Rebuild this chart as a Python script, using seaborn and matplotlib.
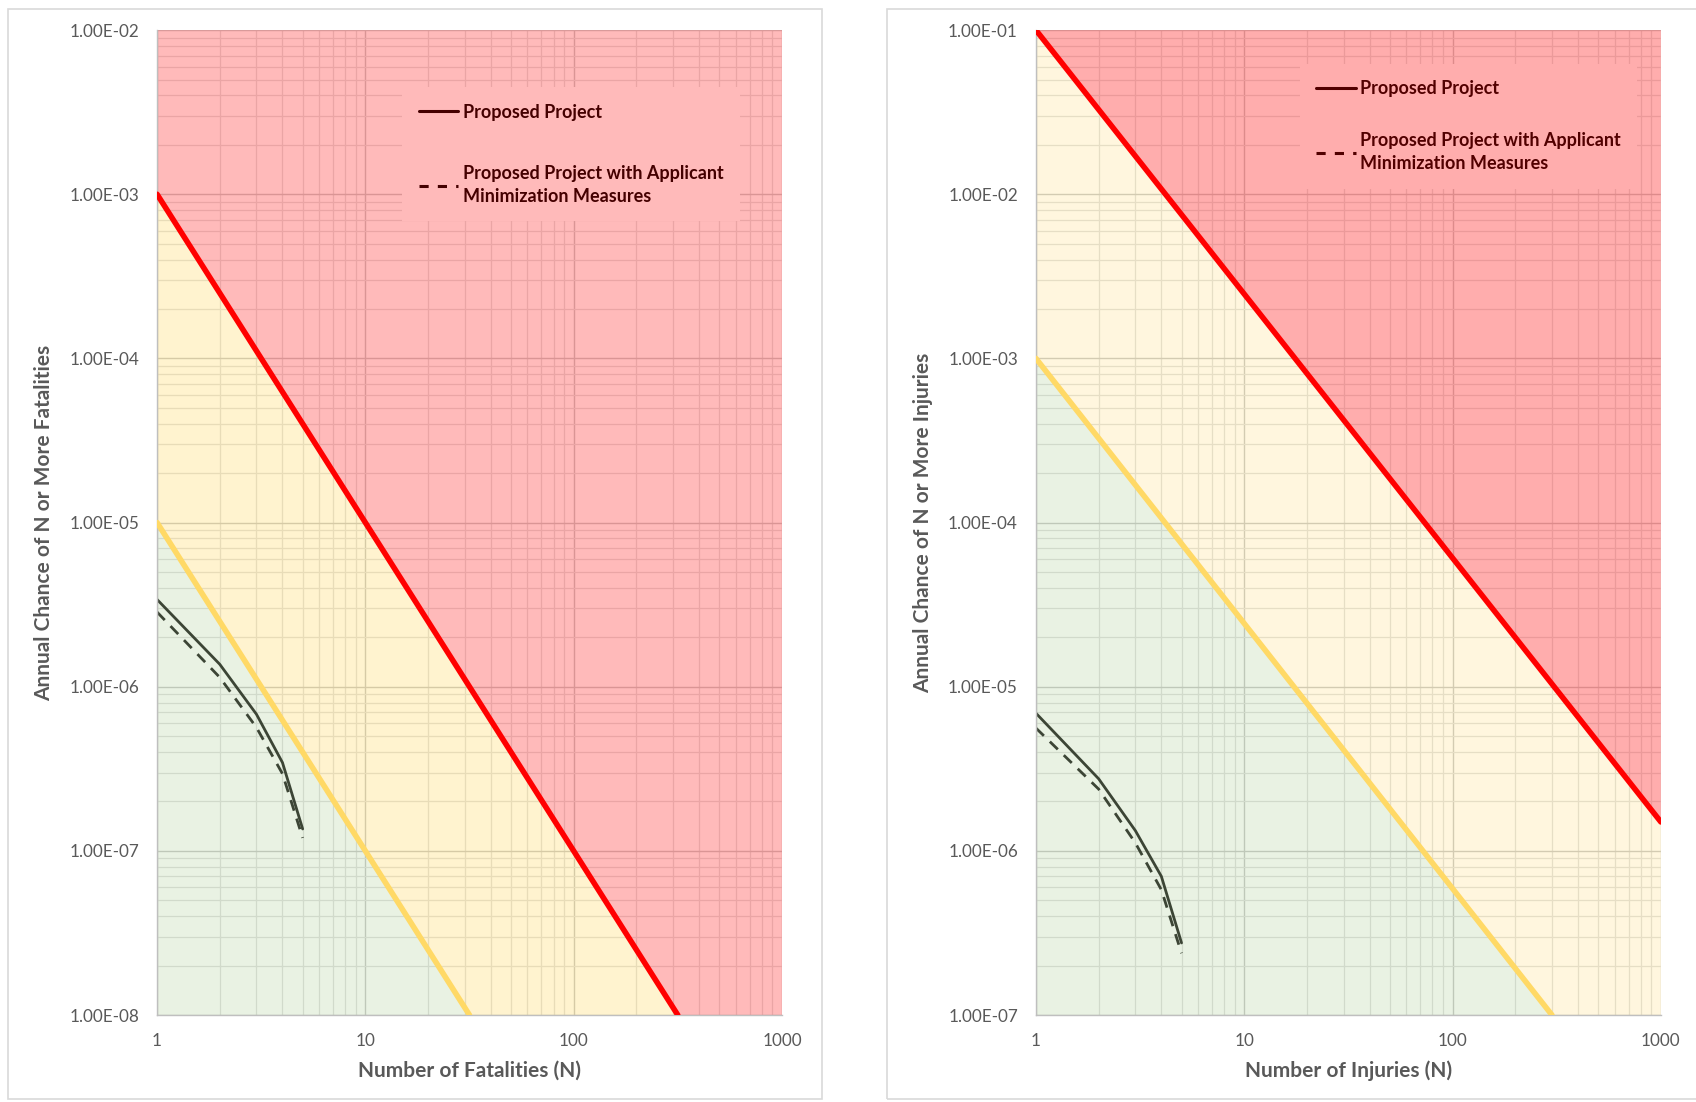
import numpy as np
import pandas as pd
import seaborn as sns
import matplotlib.pyplot as plt
from matplotlib.lines import Line2D
from matplotlib.patches import Rectangle, Polygon
from matplotlib.ticker import FuncFormatter, LogLocator, FixedLocator, NullFormatter

sns.set_theme(style="white")
plt.rcParams["font.family"] = ["Lato", "DejaVu Sans"]

# ---- data -------------------------------------------------------------
n_events = [1, 2, 3, 4, 5]

fatal_project = [3.4e-6, 1.37e-6, 6.8e-7, 3.45e-7, 1.36e-7]
fatal_mitigated = [2.85e-6, 1.14e-6, 5.65e-7, 2.95e-7, 1.2e-7]
injury_project = [6.9e-6, 2.75e-6, 1.33e-6, 7.0e-7, 2.75e-7]
injury_mitigated = [5.6e-6, 2.38e-6, 1.12e-6, 5.8e-7, 2.38e-7]

# risk criteria lines (end points)
fatal_upper_n = [1, 316]
fatal_upper_p = [1e-3, 1e-8]
fatal_lower_n = [1, 31.6]
fatal_lower_p = [1e-5, 1e-8]
injury_upper_n = [1, 1000]
injury_upper_p = [1e-1, 1.5e-6]
injury_lower_n = [1, 300]
injury_lower_p = [1e-3, 1e-7]

x_ticks = [1, 10, 100, 1000]
fatal_y_ticks = [1e-8, 1e-7, 1e-6, 1e-5, 1e-4, 1e-3, 1e-2]
injury_y_ticks = [1e-7, 1e-6, 1e-5, 1e-4, 1e-3, 1e-2, 1e-1]

label_project = "Proposed Project"
label_mitigated = "Proposed Project with Applicant\nMinimization Measures"

TEXT = "#595959"
RED = "#FF0000"
GOLD = "#FFC000"
GREEN = "#70AD47"

fig = plt.figure(figsize=(16.96, 11.02), dpi=100)
fig.patch.set_facecolor("white")

# outer chart frames
for x0, w in [(0.0045, 0.4802), (0.523, 0.48)]:
    fig.patches.append(Rectangle((x0, 0.0027), w, 0.9893, transform=fig.transFigure,
                                 fill=False, edgecolor="#D9D9D9", linewidth=1.2, zorder=0))

ax_f = fig.add_axes([0.0926, 0.0789, 0.3685, 0.8938])
ax_i = fig.add_axes([0.6108, 0.0789, 0.3685, 0.8938])


def sci_fmt(v, pos):
    m, e = f"{v:.2E}".split("E")
    sign = "-" if int(e) < 0 else "+"
    return f"{m}E{sign}{abs(int(e)):02d}"


def draw_panel(ax, y_ticks, up_n, up_p, lo_n, lo_p, proj, mitig, xlabel, ylabel,
               a_red, a_gold, a_green, leg_anchor, leg_spacing):
    ax.set_xscale("log")
    ax.set_yscale("log")
    xmin, xmax = x_ticks[0], x_ticks[-1]
    ymin, ymax = y_ticks[0], y_ticks[-1]
    ax.set_xlim(xmin, xmax)
    ax.set_ylim(ymin, ymax)

    # gridlines
    ax.set_axisbelow(True)
    ax.yaxis.set_major_locator(FixedLocator(y_ticks))
    ax.yaxis.set_minor_locator(LogLocator(base=10, subs=np.arange(2, 10), numticks=20))
    ax.xaxis.set_major_locator(FixedLocator(x_ticks))
    ax.xaxis.set_minor_locator(LogLocator(base=10, subs=np.arange(2, 10), numticks=20))
    ax.xaxis.set_minor_formatter(NullFormatter())
    ax.yaxis.set_minor_formatter(NullFormatter())
    ax.grid(which="major", color="#CDCDCD", linewidth=1.0)
    ax.grid(which="minor", color="#E3E3E3", linewidth=0.9)

    # project curves
    df = pd.DataFrame({"N": n_events + n_events,
                       "P": proj + mitig,
                       "case": ["p"] * len(n_events) + ["m"] * len(n_events)})
    sns.lineplot(data=df[df.case == "p"], x="N", y="P", ax=ax, color="#333333",
                 linewidth=2.0, zorder=1.2, legend=False)
    sns.lineplot(data=df[df.case == "m"], x="N", y="P", ax=ax, color="#333333",
                 linewidth=2.0, dashes=False, zorder=1.2, legend=False)
    ax.lines[-1].set_dashes((4, 3))

    # legend (sits under the translucent zones)
    handles = [Line2D([], [], color="black", lw=2.2),
               Line2D([], [], color="black", lw=2.2, dashes=(3, 3))]
    leg = ax.legend(handles, [label_project, label_mitigated], loc="upper left",
                    bbox_to_anchor=leg_anchor, frameon=True, fancybox=False,
                    facecolor="white", edgecolor="none", framealpha=1.0,
                    handlelength=2.2, handletextpad=0.25, labelspacing=leg_spacing,
                    borderpad=0.9, prop={"weight": "bold", "size": 13})
    for t in leg.get_texts():
        t.set_color("black")
        t.set_linespacing(1.45)
    leg.set_zorder(1.5)

    # risk zones
    red_poly = [(up_n[0], up_p[0])]
    if up_p[-1] <= ymin:
        red_poly += [(up_n[-1], ymin), (xmax, ymin)]
    else:
        red_poly += [(xmax, up_p[-1])]
    red_poly += [(xmax, ymax), (xmin, ymax)]
    gold_poly = [(lo_n[0], lo_p[0]), (lo_n[-1], lo_p[-1])]
    if up_p[-1] <= ymin:
        gold_poly += [(up_n[-1], ymin)]
    else:
        gold_poly += [(xmax, ymin), (xmax, up_p[-1])]
    gold_poly += [(up_n[0], up_p[0])]
    green_poly = [(xmin, ymin), (lo_n[-1], lo_p[-1]), (lo_n[0], lo_p[0])]
    ax.add_patch(Polygon(red_poly, closed=True, facecolor=RED, alpha=a_red, lw=0, zorder=2))
    ax.add_patch(Polygon(gold_poly, closed=True, facecolor=GOLD, alpha=a_gold, lw=0, zorder=2))
    ax.add_patch(Polygon(green_poly, closed=True, facecolor=GREEN, alpha=a_green, lw=0, zorder=2))

    # criteria lines
    sns.lineplot(x=lo_n, y=lo_p, ax=ax, color="#FFD966", linewidth=4.0, zorder=3)
    sns.lineplot(x=up_n, y=up_p, ax=ax, color=RED, linewidth=4.0, zorder=3.1)

    # axes styling
    for s in ["top", "right"]:
        ax.spines[s].set_visible(False)
    for s in ["left", "bottom"]:
        ax.spines[s].set_color("#BFBFBF")
        ax.spines[s].set_linewidth(1.0)
        ax.spines[s].set_zorder(2.5)
    ax.yaxis.set_major_formatter(FuncFormatter(sci_fmt))
    ax.xaxis.set_major_formatter(FuncFormatter(lambda v, p: f"{int(round(v))}"))
    ax.tick_params(which="both", length=0)
    ax.tick_params(axis="y", pad=13, labelsize=12.3, labelcolor=TEXT)
    ax.tick_params(axis="x", pad=13, labelsize=12.3, labelcolor=TEXT)
    ax.set_xlabel(xlabel, fontsize=15, fontweight="bold", color=TEXT)
    ax.set_ylabel(ylabel, fontsize=15, fontweight="bold", color=TEXT)
    ax.xaxis.set_label_coords(0.5, -0.046)
    ax.yaxis.set_label_coords(-0.165, 0.5)
    ax.set_facecolor("white")


draw_panel(ax_f, fatal_y_ticks, fatal_upper_n, fatal_upper_p, fatal_lower_n, fatal_lower_p,
           fatal_project, fatal_mitigated, "Number of Fatalities (N)",
           "Annual Chance of N or More Fatalities",
           a_red=0.27, a_gold=0.19, a_green=0.15, leg_anchor=(0.378, 0.951), leg_spacing=2.45)
draw_panel(ax_i, injury_y_ticks, injury_upper_n, injury_upper_p, injury_lower_n, injury_lower_p,
           injury_project, injury_mitigated, "Number of Injuries (N)",
           "Annual Chance of N or More Injuries",
           a_red=0.32, a_gold=0.13, a_green=0.15, leg_anchor=(0.408, 0.975), leg_spacing=1.95)

fig.savefig("out.png", dpi=100, facecolor="white")
